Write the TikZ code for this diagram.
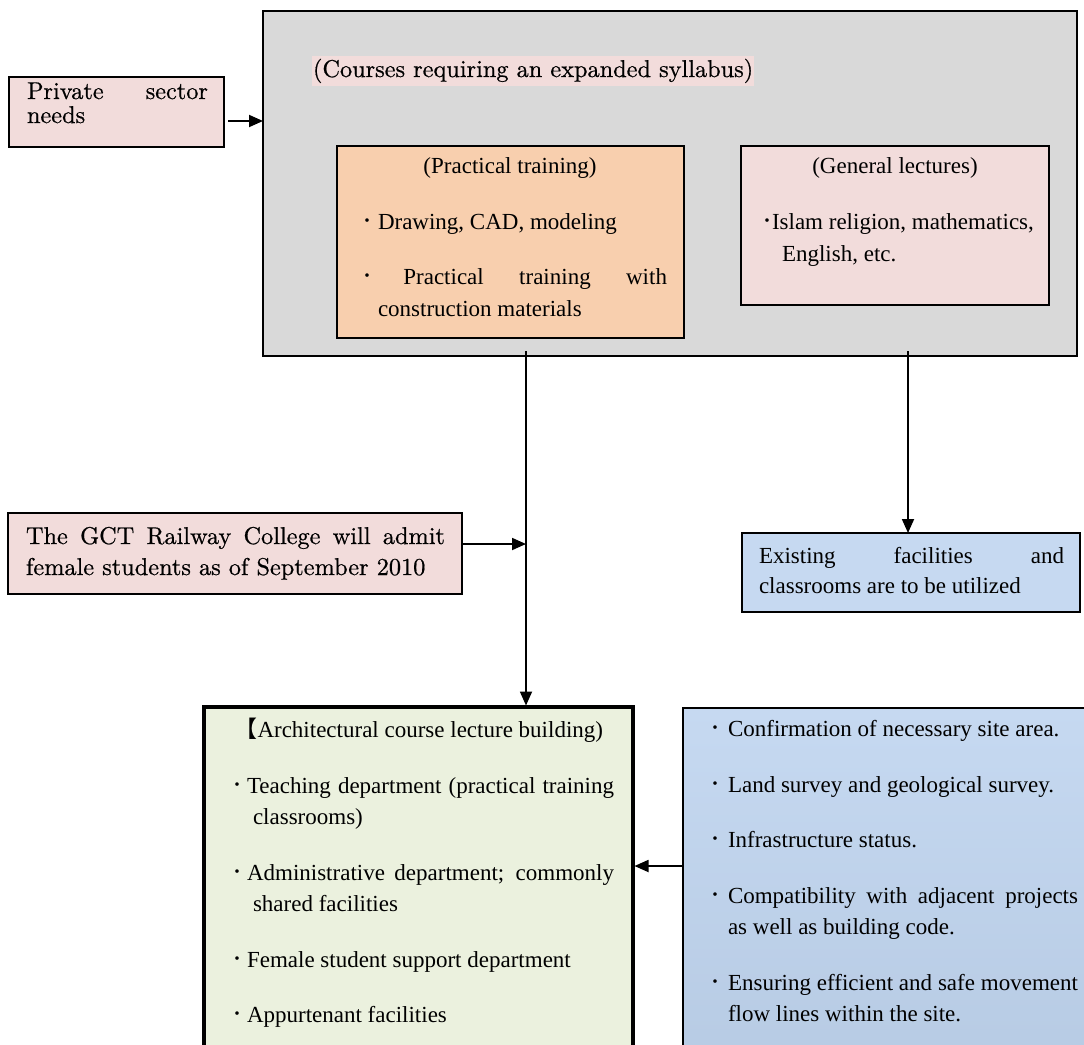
\documentclass[tikz,border=0pt]{standalone}
\usepackage{fontspec}
\setmainfont{Liberation Serif}
\newfontfamily\cmfont{lmroman10-regular.otf}[FakeBold=0.6]
\newfontfamily\cjk{Noto Sans CJK SC}
\usetikzlibrary{arrows.meta}
\definecolor{grayfill}{HTML}{D9D9D9}
\definecolor{pinkfill}{HTML}{F2DCDB}
\definecolor{peachfill}{HTML}{F8CFAE}
\definecolor{greenfill}{HTML}{EBF1DE}
\definecolor{blueA}{HTML}{C6D9F1}
\definecolor{blueB}{HTML}{B6CAE3}
\newcommand\szT{\fontsize{23}{23}\selectfont}
\newcommand\szC{\cmfont\fontsize{24.3}{24.3}\selectfont}
\newcommand\bdot[1]{\makebox[#1][l]{\raisebox{-1.2pt}{\fontsize{30}{30}\selectfont ·}}}
\begin{document}
\begin{tikzpicture}[x=1pt,y=-1pt,
  box/.style={draw=black, line width=1.3pt, inner sep=0pt, outer sep=0pt, anchor=north west},
  txt/.style={inner sep=0pt, outer sep=0pt, anchor=base west, font=\szT},
  ctxt/.style={txt, font=\szC},
  arr/.style={line width=1.8pt, -{Triangle[length=14pt,width=12pt]}}]
\useasboundingbox (0,0) rectangle (1084,1044);
\clip (0,0) rectangle (1084,1044);
\fill[white] (0,0) rectangle (1084,1044);

% boxes
\node[box, fill=pinkfill, minimum width=215pt, minimum height=70pt] (private) at (9,77) {};
\node[box, fill=grayfill, minimum width=814pt, minimum height=345pt] (gray) at (263,11) {};
\node[box, fill=peachfill, minimum width=347pt, minimum height=192pt] (prac) at (337,146) {};
\node[box, fill=pinkfill, minimum width=308pt, minimum height=159pt] (gen) at (741,146) {};
\node[box, fill=pinkfill, minimum width=454pt, minimum height=81pt] (gct) at (8,513) {};
\node[box, fill=blueA, minimum width=338pt, minimum height=79pt] (exist) at (742,533) {};
\node[box, fill=greenfill, line width=3.2pt, minimum width=429pt, minimum height=380pt] (lect) at (204,707) {};
\node[box, top color=blueA, bottom color=blueB, minimum width=430pt, minimum height=380pt] (site) at (683,708) {};

% private sector
\node[ctxt] (p1) at (27,99) {\makebox[181pt][s]{Private sector}};
\node[ctxt] (p2) at (27,123) {needs};

% gray title
\node[ctxt, fill=pinkfill, inner xsep=1pt, inner ysep=3pt] (gtitle) at (312,77) {(Courses requiring an expanded syllabus)};

% practical
\node[txt, anchor=base] (pr0) at (510,173) {(Practical training)};
\node[txt] (pr1) at (362,229) {\bdot{16pt}Drawing, CAD, modeling};
\node[txt] (pr2) at (362,284) {\makebox[305pt][s]{\bdot{6pt} Practical training with}};
\node[txt] (pr3) at (378,316) {construction materials};

% general
\node[txt, anchor=base] (ge0) at (895,173) {(General lectures)};
\node[txt] (ge1) at (762,229) {\bdot{10pt}Islam religion, mathematics,};
\node[txt] (ge2) at (782,261) {English, etc.};

% GCT
\node[ctxt] (g1) at (26,544) {\makebox[419pt][s]{The GCT Railway College will admit}};
\node[ctxt] (g2) at (26,575) {female students as of September 2010};

% existing
\node[txt] (e1) at (759,563) {\makebox[305pt][s]{Existing facilities and}};
\node[txt] (e2) at (759,593) {classrooms are to be utilized};

% lecture building
\node[txt, anchor=base east] (l0) at (603,737) {{\cjk 【}Architectural course lecture building)};
\node[txt] (l1) at (232,793) {\makebox[382pt][s]{\bdot{15pt}Teaching department (practical training}};
\node[txt] (l2) at (253,824) {classrooms)};
\node[txt] (l3) at (232,880) {\makebox[382pt][s]{\bdot{15pt}Administrative department; commonly}};
\node[txt] (l4) at (253,911) {shared facilities};
\node[txt] (l5) at (232,967) {\bdot{15pt}Female student support department};
\node[txt] (l6) at (232,1022) {\bdot{15pt}Appurtenant facilities};

% site box
\node[txt] (s1t) at (710,736) {\bdot{18pt}Confirmation of necessary site area.};
\node[txt] (s2t) at (710,792) {\bdot{18pt}Land survey and geological survey.};
\node[txt] (s3t) at (710,847) {\bdot{18pt}Infrastructure status.};
\node[txt] (s4t) at (710,903) {\makebox[368pt][s]{\bdot{18pt}Compatibility with adjacent projects}};
\node[txt] (s5t) at (728,934) {as well as building code.};
\node[txt] (s6t) at (710,990) {\makebox[368pt][s]{\bdot{18pt}Ensuring efficient and safe movement}};
\node[txt] (s7t) at (728,1021) {flow lines within the site.};

% connectors
\coordinate (r1) at (0,121);
\coordinate (r2) at (0,544);
\coordinate (r3) at (0,866);
\coordinate (c1) at (526,351);
\coordinate (c2) at (908,351);
\draw[arr] ([xshift=4pt]private.east |- r1) -- (gray.west |- r1);
\draw[arr] (c1) -- ([yshift=1.5pt]c1 |- lect.north);
\draw[arr] (c2) -- (c2 |- exist.north);
\draw[arr] (gct.east |- r2) -- (c1 |- r2);
\draw[arr] (site.west |- r3) -- ([xshift=1.5pt]lect.east |- r3);
\end{tikzpicture}
\end{document}
